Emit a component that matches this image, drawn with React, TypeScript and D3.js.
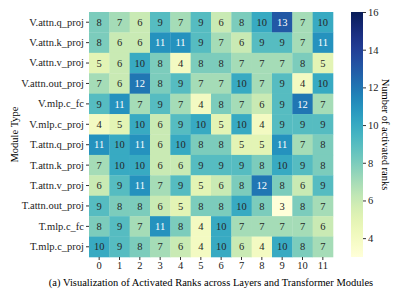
import { useEffect, useRef } from 'react';
import * as d3 from 'd3';

const width = 411;
const height = 294;

const modules = [
  'V.attn.q_proj',
  'V.attn.k_proj',
  'V.attn.v_proj',
  'V.attn.out_proj',
  'V.mlp.c_fc',
  'V.mlp.c_proj',
  'T.attn.q_proj',
  'T.attn.k_proj',
  'T.attn.v_proj',
  'T.attn.out_proj',
  'T.mlp.c_fc',
  'T.mlp.c_proj',
];
const layers = [0, 1, 2, 3, 4, 5, 6, 7, 8, 9, 10, 11];
const ranks = [
  [8, 7, 6, 9, 7, 9, 6, 8, 10, 13, 7, 10],
  [8, 6, 6, 11, 11, 9, 7, 6, 9, 9, 7, 11],
  [5, 6, 10, 8, 4, 8, 8, 7, 7, 7, 8, 5],
  [7, 6, 12, 8, 9, 7, 7, 10, 7, 9, 4, 10],
  [9, 11, 7, 9, 7, 4, 8, 7, 6, 9, 12, 7],
  [4, 5, 10, 6, 9, 10, 5, 10, 4, 9, 9, 9],
  [11, 10, 11, 6, 10, 8, 8, 5, 5, 11, 7, 8],
  [7, 10, 10, 6, 6, 9, 9, 9, 8, 10, 9, 8],
  [6, 9, 11, 7, 9, 5, 6, 8, 12, 8, 6, 9],
  [9, 8, 8, 6, 5, 8, 8, 10, 8, 3, 8, 7],
  [8, 9, 7, 11, 8, 4, 10, 7, 7, 7, 7, 6],
  [10, 9, 8, 7, 6, 4, 10, 6, 4, 10, 8, 7],
];
const colorTicks = [4, 6, 8, 10, 12, 14, 16];

const font = "'Liberation Serif', 'DejaVu Serif', serif";

function App() {
  const ref = useRef(null);

  useEffect(() => {
    const svg = d3.select(ref.current);
    svg.selectAll('*').remove();

    const left = 89, right = 333, top = 12, bottom = 257;
    const x = d3.scaleBand().domain(layers.map(String)).range([left, right]);
    const y = d3.scaleBand().domain(modules).range([top, bottom]);
    const color = d3.scaleSequential(d3.interpolateYlGnBu).domain([3, 16]);

    const cells = [];
    ranks.forEach((row, i) =>
      row.forEach((v, j) => cells.push({ m: modules[i], l: String(layers[j]), v }))
    );

    svg
      .append('g')
      .selectAll('rect')
      .data(cells)
      .join('rect')
      .attr('x', (d) => x(d.l))
      .attr('y', (d) => y(d.m))
      .attr('width', x.bandwidth() + 0.3)
      .attr('height', y.bandwidth() + 0.3)
      .attr('fill', (d) => color(d.v));

    svg
      .append('g')
      .selectAll('text')
      .data(cells)
      .join('text')
      .attr('x', (d) => x(d.l) + x.bandwidth() / 2)
      .attr('y', (d) => y(d.m) + y.bandwidth() / 2)
      .attr('dy', '0.35em')
      .attr('text-anchor', 'middle')
      .style('font-family', font)
      .style('font-size', '10.5px')
      .attr('fill', (d) => (d.v >= 11 ? '#fff' : '#262626'))
      .text((d) => d.v);

    const xAxis = svg
      .append('g')
      .attr('transform', `translate(0,${bottom})`)
      .call(d3.axisBottom(x).tickSize(3).tickPadding(2));
    const yAxis = svg
      .append('g')
      .attr('transform', `translate(${left},0)`)
      .call(d3.axisLeft(y).tickSize(3).tickPadding(2));
    [xAxis, yAxis].forEach((a) => {
      a.select('.domain').remove();
      a.selectAll('text').style('font-family', font).style('font-size', '10.5px').attr('fill', '#222');
      a.selectAll('line').attr('stroke', '#333');
    });

    svg
      .append('text')
      .attr('transform', `translate(18,${(top + bottom) / 2}) rotate(-90)`)
      .attr('text-anchor', 'middle')
      .style('font-family', font)
      .style('font-size', '10.5px')
      .text('Module Type');

    // colorbar
    const cbX = 351, cbW = 12;
    const cy = d3.scaleLinear().domain([3, 16]).range([bottom, top]);
    const defs = svg.append('defs');
    const grad = defs
      .append('linearGradient')
      .attr('id', 'cb')
      .attr('x1', 0).attr('y1', 1).attr('x2', 0).attr('y2', 0);
    d3.range(0, 1.001, 0.05).forEach((t) =>
      grad.append('stop').attr('offset', t).attr('stop-color', color(3 + t * 13))
    );
    svg
      .append('rect')
      .attr('x', cbX)
      .attr('y', top)
      .attr('width', cbW)
      .attr('height', bottom - top)
      .attr('fill', 'url(#cb)');
    const cAxis = svg
      .append('g')
      .attr('transform', `translate(${cbX + cbW},0)`)
      .call(d3.axisRight(cy).tickValues(colorTicks).tickSize(3).tickPadding(2));
    cAxis.select('.domain').remove();
    cAxis.selectAll('text').style('font-family', font).style('font-size', '10.5px').attr('fill', '#222');
    cAxis.selectAll('line').attr('stroke', '#333');

    svg
      .append('text')
      .attr('transform', `translate(382,${(top + bottom) / 2}) rotate(90)`)
      .attr('text-anchor', 'middle')
      .style('font-family', font)
      .style('font-size', '10.5px')
      .text('Number of activated ranks');

    svg
      .append('text')
      .attr('x', 211)
      .attr('y', 286)
      .attr('text-anchor', 'middle')
      .style('font-family', font)
      .style('font-size', '10.5px')
      .text('(a) Visualization of Activated Ranks across Layers and Transformer Modules');
  }, []);

  return (
    <svg
      ref={ref}
      width={width}
      height={height}
      style={{ position: 'absolute', left: 0, top: 0, background: '#fff' }}
    />
  );
}

export default App;
